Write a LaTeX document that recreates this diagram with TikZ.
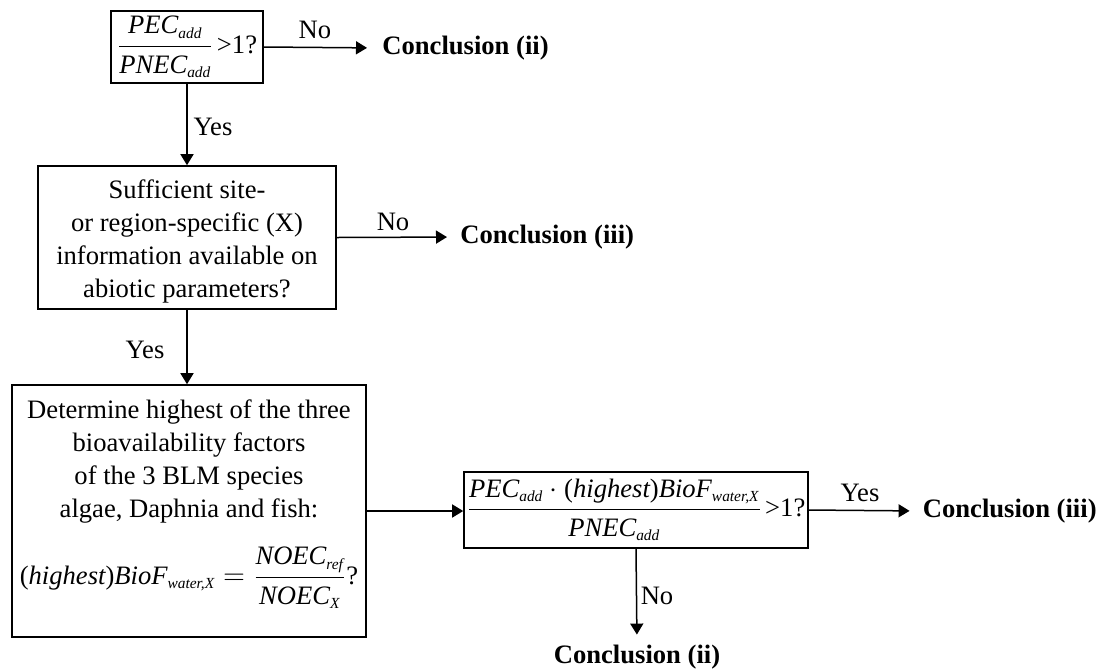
\documentclass[tikz,border=0pt]{standalone}
\usepackage{fontspec}
\setmainfont{Liberation Serif}
\usepackage{amsmath}
\usetikzlibrary{arrows.meta}
% smaller subscripts, as in the equation editor look
\DeclareMathSizes{13.3}{13.3}{7.7}{6}
% italic and upright text pieces inside formulas
\newcommand{\vi}[1]{\text{\itshape #1}}
\newcommand{\up}[1]{\text{\upshape #1}}
\newcommand{\gtone}{\mkern2mu\up{>1?}}

\begin{document}
\begin{tikzpicture}[x=0.5pt,y=-0.5pt,
  every node/.style={font=\fontsize{13.3}{16.5}\selectfont},
  box/.style={draw, line width=0.8pt, inner sep=0pt, align=center},
  concl/.style={font=\fontsize{13.3}{16.5}\selectfont\bfseries, inner sep=0pt},
  lbl/.style={inner sep=0pt},
  flow/.style={line width=0.75pt, -{Triangle[length=5.5pt,width=6.5pt]}}]

\useasboundingbox (0,0) rectangle (1101,670);

% decision and process boxes
\node[box, minimum width=76pt, minimum height=36pt] (q1) at (187,47)
  {$\dfrac{\vi{PEC}_{\vi{add}}}{\vi{PNEC}_{\vi{add}}}\gtone$};

\node[box, minimum width=149pt, minimum height=71.5pt] (q2) at (187,237.5)
  {\rule{0pt}{13pt}Sufficient site-\\ or region-specific (X)\\ information available on\\ abiotic parameters?};

\node[box, minimum width=177pt, minimum height=126pt] (q3) at (189,511)
  {Determine highest of the three\\ bioavailability factors\\ of the 3 BLM species\\ algae, Daphnia and fish:\\[11pt]
   $\up{(}\vi{highest}\up{)}\vi{BioF}_{\vi{water,X}}=\dfrac{\vi{NOEC}_{\vi{ref}}}{\vi{NOEC}_{\vi{X}}}\up{?}$\rule[-19pt]{0pt}{19pt}};

\node[box, minimum width=172pt, minimum height=38pt] (q4) at (636,510)
  {$\dfrac{\vi{PEC}_{\vi{add}}\cdot\up{(}\vi{highest}\up{)}\vi{BioF}_{\vi{water,X}}}{\vi{PNEC}_{\vi{add}}}\gtone$};

% conclusions
\node[concl, anchor=west] (c1) at (382,48) {Conclusion (ii)};
\node[concl, anchor=west] (c2) at (460,237) {Conclusion (iii)};
\node[concl, anchor=east] (c3) at (1097,511) {Conclusion (iii)};
\node[concl] (c4) at (637,657) {Conclusion (ii)};

% connectors
\draw[flow, shorten >=7.5pt] (q1.east) -- (c1.west);
\draw[flow] (q1.south) -- (q2.north);
\draw[flow, shorten >=6.5pt] (q2.east) -- (c2.west);
\draw[flow] (q2.south) -- (q2.south |- q3.north);
\draw[flow] (q3.east) -- (q3.east -| q4.west);
\draw[flow, shorten >=6.5pt] (q4.east) -- (c3.west);
\draw[flow, shorten >=5pt] (q4.south) -- (c4.north);

% branch labels
\node[lbl] (l1) at (315,30) {No};
\node[lbl] (l2) at (213,127) {Yes};
\node[lbl] (l3) at (393,222) {No};
\node[lbl] (l4) at (145,350) {Yes};
\node[lbl] (l5) at (860,493) {Yes};
\node[lbl] (l6) at (657,596) {No};
\end{tikzpicture}
\end{document}
